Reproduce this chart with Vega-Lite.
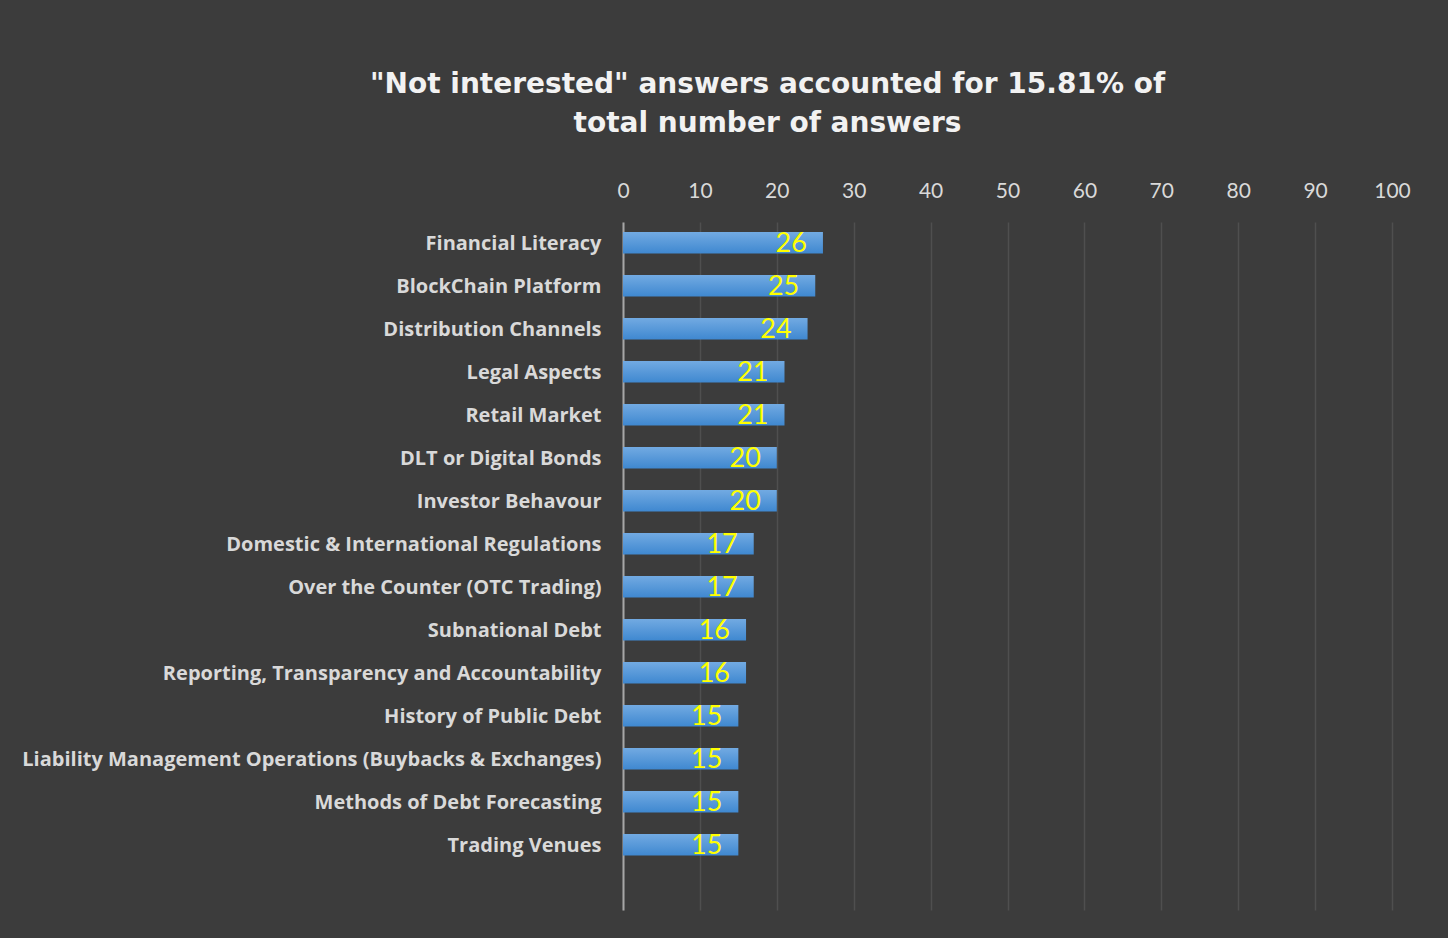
{
  "$schema": "https://vega.github.io/schema/vega-lite/v6.json",
  "width": 769,
  "height": 688,
  "autosize": {"type": "none"},
  "padding": {"left": 623, "top": 222, "right": 56, "bottom": 28},
  "background": "#3c3c3c",
  "title": {
    "text": ["\"Not interested\" answers accounted for 15.81% of", "total number of answers"],
    "font": "DejaVu Sans",
    "fontSize": 28,
    "fontWeight": "bold",
    "color": "#f2f2f2",
    "lineHeight": 39,
    "anchor": "middle",
    "frame": "group",
    "dx": -240,
    "offset": 42
  },
  "data": {
    "values": [
      {"topic": "Financial Literacy", "count": 26},
      {"topic": "BlockChain Platform", "count": 25},
      {"topic": "Distribution Channels", "count": 24},
      {"topic": "Legal Aspects", "count": 21},
      {"topic": "Retail Market", "count": 21},
      {"topic": "DLT or Digital Bonds", "count": 20},
      {"topic": "Investor Behavour", "count": 20},
      {"topic": "Domestic & International Regulations", "count": 17},
      {"topic": "Over the Counter (OTC Trading)", "count": 17},
      {"topic": "Subnational Debt", "count": 16},
      {"topic": "Reporting, Transparency and Accountability", "count": 16},
      {"topic": "History of Public Debt", "count": 15},
      {"topic": "Liability Management Operations (Buybacks & Exchanges)", "count": 15},
      {"topic": "Methods of Debt Forecasting", "count": 15},
      {"topic": "Trading Venues", "count": 15}
    ]
  },
  "encoding": {
    "y": {
      "field": "topic",
      "type": "nominal",
      "sort": null,
      "scale": {"paddingInner": 0.5, "paddingOuter": 0.75, "align": 0.155},
      "axis": {
        "title": null,
        "ticks": false,
        "tickSize": 0,
        "domain": true,
        "domainColor": "#a6a6a6",
        "domainWidth": 2,
        "labelFont": "Open Sans",
        "labelFontWeight": "bold",
        "labelFontSize": 20,
        "labelColor": "#d9d9d9",
        "labelPadding": 22,
        "labelLimit": 700,
        "labelOffset": 1,
        "grid": false
      }
    },
    "x": {
      "field": "count",
      "type": "quantitative",
      "scale": {"domain": [0, 100], "nice": false},
      "axis": {
        "orient": "top",
        "title": null,
        "values": [0, 10, 20, 30, 40, 50, 60, 70, 80, 90, 100],
        "ticks": false,
        "tickSize": 0,
        "domain": false,
        "grid": true,
        "gridColor": "#ffffff",
        "gridOpacity": 0.1,
        "gridWidth": 1.5,
        "labelFont": "Lato",
        "labelFontSize": 21,
        "labelColor": "#d9d9d9",
        "labelPadding": 21,
        "labelFlush": false,
        "labelOverlap": false
      }
    }
  },
  "layer": [
    {
      "mark": {
        "type": "bar",
        "color": {
          "gradient": "linear",
          "x1": 0, "y1": 0, "x2": 0, "y2": 1,
          "stops": [
            {"offset": 0, "color": "#72aae2"},
            {"offset": 1, "color": "#3f88d0"}
          ]
        }
      }
    },
    {
      "mark": {
        "type": "text",
        "align": "right",
        "baseline": "middle",
        "dx": -16,
        "dy": 1,
        "font": "Lato",
        "fontSize": 27,
        "color": "#ffff00"
      },
      "encoding": {"text": {"field": "count", "type": "quantitative"}}
    }
  ],
  "config": {"view": {"stroke": null}}
}
